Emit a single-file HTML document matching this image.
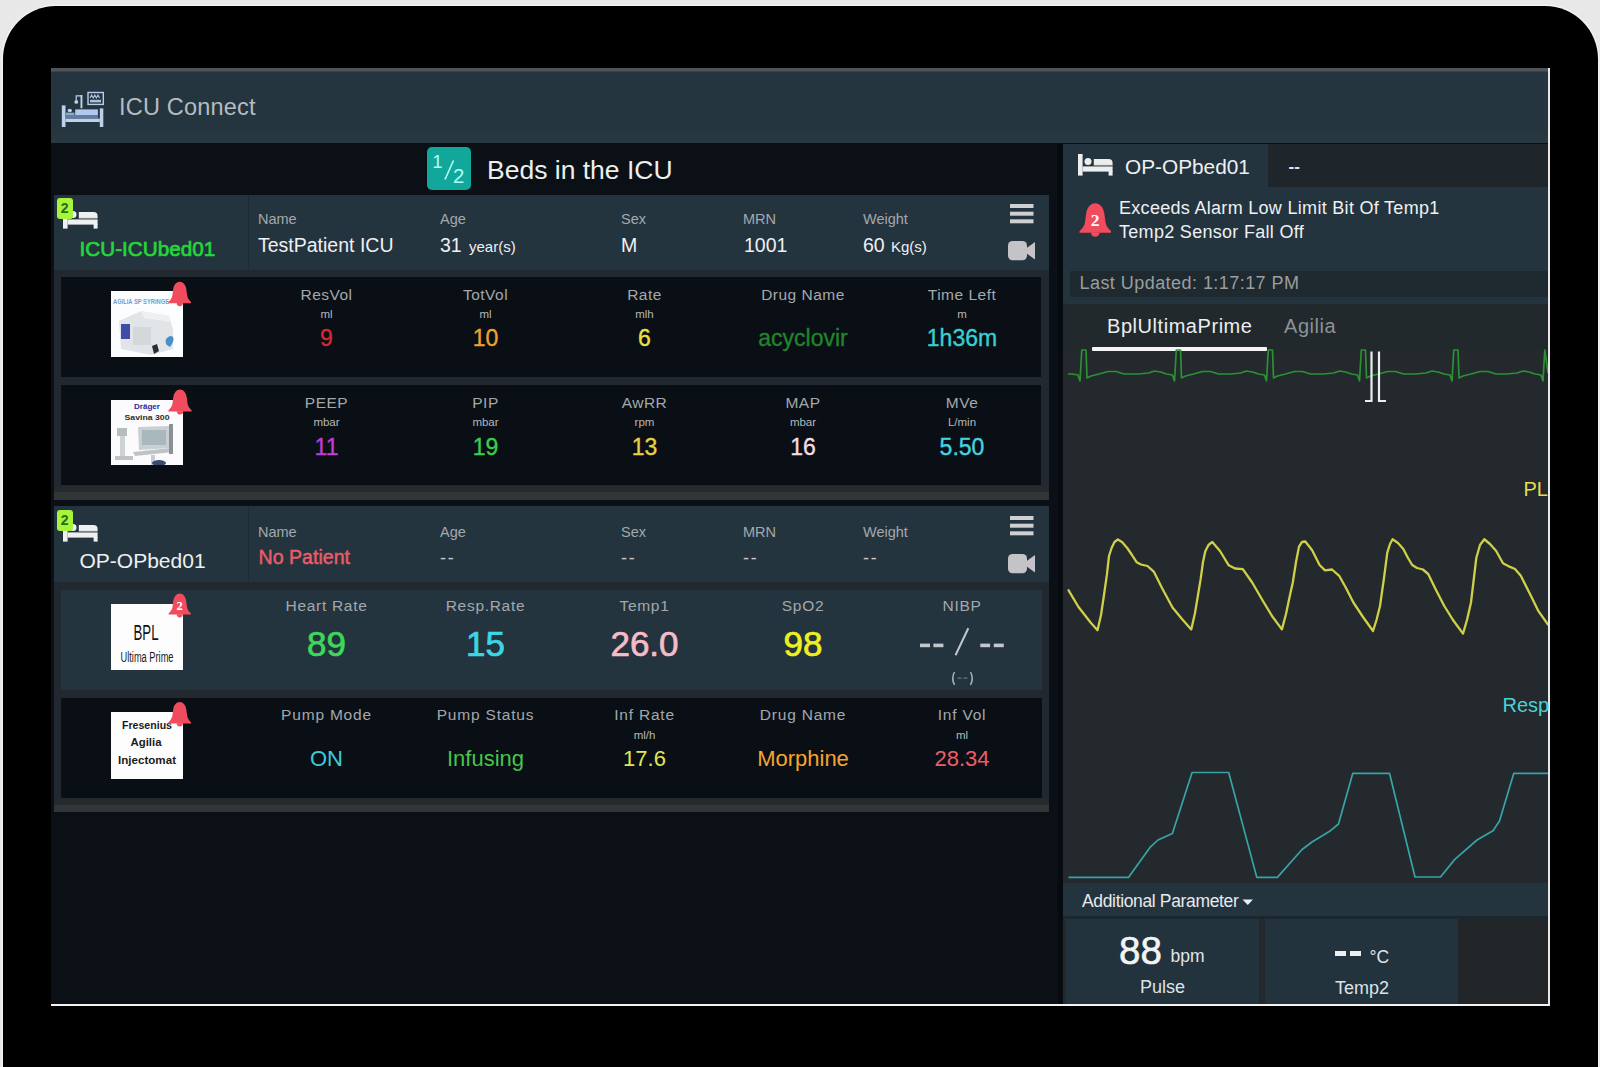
<!DOCTYPE html>
<html><head><meta charset="utf-8"><title>ICU Connect</title>
<style>
html,body{margin:0;padding:0;width:1600px;height:1067px;overflow:hidden;background:#e8e8e8;}
#root{position:relative;width:1600px;height:1067px;overflow:hidden;font-family:"Liberation Sans",sans-serif;}
#root>div,#root>svg{position:absolute;white-space:pre;}
</style></head><body><div id="root">
<div style="left:3px;top:6px;width:1595px;height:1100px;background:#000;border-radius:53px 53px 0 0;box-shadow:0 0 0 1.5px #f2f2f2;"></div>
<div style="left:51px;top:68px;width:1499px;height:938px;background:#0a1016;"></div>
<div style="left:51px;top:70px;width:1499px;height:73px;background:#243540;"></div>
<div style="left:51px;top:68px;width:1497px;height:2.5px;background:#4f5458;"></div>
<div style="left:51px;top:70.5px;width:1497px;height:1.5px;background:#3b4348;"></div>
<div style="left:51px;top:126px;width:1497px;height:17px;background:linear-gradient(#243540,#283940);"></div>
<div style="left:51px;top:1004px;width:1499px;height:2px;background:#f4f4f4;"></div>
<div style="left:1548px;top:68px;width:2px;height:938px;background:#e8e8e8;"></div>
<svg style="left:55px;top:85px" width="50" height="45" viewBox="0 0 50 45">
<g fill="#bdd1ec">
<rect x="6.8" y="20.4" width="3.7" height="21.6"/>
<rect x="44.8" y="23.4" width="3.5" height="18.6"/>
<rect x="10.5" y="33.5" width="34.3" height="3.5"/>
<rect x="20.2" y="24.4" width="22.7" height="5.6" fill="#b2c9ee"/>
<ellipse cx="14.8" cy="25.5" rx="2.2" ry="1.8"/>
<rect x="25.5" y="10" width="1.9" height="13.2"/>
<circle cx="21.3" cy="16.9" r="1.9"/>
</g>
<rect x="11" y="30" width="32" height="3.2" fill="#5f7ea6"/>
<rect x="11" y="27.6" width="8.5" height="2.4" fill="#8ea8cc"/>
<path d="M26.4 10.8 H21.2 V15" stroke="#bdd1ec" stroke-width="1.2" fill="none"/>
<rect x="33" y="7.5" width="15.3" height="11.9" fill="none" stroke="#b9cde8" stroke-width="1.4"/>
<path d="M35 13 l1.6 -3 l1.6 3 l1.6 -3 l1.6 3 l1.6 -3 l1.6 3" stroke="#a9bfdc" stroke-width="1.1" fill="none"/>
<rect x="35" y="14.8" width="11" height="2.6" fill="#a9bfdc"/>
</svg>
<div style="top:96.4px;font-size:23.5px;line-height:23.5px;color:#b6bbbf;font-weight:400;letter-spacing:0.2px;left:119px;">ICU Connect</div>
<div style="left:427px;top:147px;width:44px;height:43px;background:#12a79b;border-radius:5px;"></div>
<div style="top:152.8px;font-size:18px;line-height:18px;color:#b0fff8;font-weight:400;left:432.5px;">1</div>
<div style="top:166.2px;font-size:20.5px;line-height:20.5px;color:#b0fff8;font-weight:400;left:453px;">2</div>
<svg style="left:440px;top:155px" width="20" height="30"><line x1="13.5" y1="5.5" x2="5" y2="24.5" stroke="#b0fff8" stroke-width="1.6"/></svg>
<div style="top:156.6px;font-size:26.5px;line-height:26.5px;color:#eceeee;font-weight:400;left:487px;">Beds in the ICU</div>
<div style="left:54px;top:195px;width:995px;height:304.5px;background:#22282f;"></div>
<div style="left:54px;top:485.5px;width:995px;height:6.5px;background:#252b2d;"></div>
<div style="left:54px;top:492px;width:995px;height:7.5px;background:#333639;"></div>
<div style="left:54px;top:195px;width:995px;height:75px;background:#24343f;"></div>
<div style="left:248px;top:195px;width:1px;height:75px;background:#1e2b34;"></div>
<svg style="left:63.4px;top:207.1px" width="36" height="22" viewBox="0 0 36 22">
<g fill="#eef0f2">
<rect x="0" y="0" width="4.6" height="21.6"/>
<circle cx="10" cy="7.6" r="3.5"/>
<path d="M15.8 4.9 H30.4 Q34.6 4.9 34.6 9 V10.9 H15.8 Z"/>
<rect x="4.6" y="12.4" width="30" height="5.2"/>
<rect x="30.6" y="17" width="4" height="4.6"/>
</g>
<rect x="15.8" y="10.9" width="18.8" height="1.5" fill="#7f8588"/>
</svg>
<div style="left:57px;top:198px;width:15.5px;height:20.5px;background:#a8f33c;border-radius:3px;"></div>
<div style="top:201.3px;font-size:14px;line-height:14px;color:#2c6a12;font-weight:700;left:-235.25px;width:600px;text-align:center;font-family:"Liberation Serif";">2</div>
<div style="top:239.0px;font-size:20.7px;line-height:20.7px;color:#24d63c;font-weight:400;left:79.5px;-webkit-text-stroke:0.7px #24d63c;">ICU-ICUbed01</div>
<div style="top:211.7px;font-size:14.5px;line-height:14.5px;color:#a3a8ac;font-weight:400;left:258px;">Name</div>
<div style="top:235.5px;font-size:19.5px;line-height:19.5px;color:#eef0f2;font-weight:400;left:258px;">TestPatient ICU</div>
<div style="top:211.7px;font-size:14.5px;line-height:14.5px;color:#a3a8ac;font-weight:400;left:440px;">Age</div>
<div style="top:235.5px;font-size:19.5px;line-height:19.5px;color:#eef0f2;font-weight:400;left:440px;">31</div>
<div style="top:239.3px;font-size:15px;line-height:15px;color:#eef0f2;font-weight:400;left:469px;">year(s)</div>
<div style="top:211.7px;font-size:14.5px;line-height:14.5px;color:#a3a8ac;font-weight:400;left:621px;">Sex</div>
<div style="top:235.5px;font-size:19.5px;line-height:19.5px;color:#eef0f2;font-weight:400;left:621px;">M</div>
<div style="top:211.7px;font-size:14.5px;line-height:14.5px;color:#a3a8ac;font-weight:400;left:743px;">MRN</div>
<div style="top:235.5px;font-size:19.5px;line-height:19.5px;color:#eef0f2;font-weight:400;left:744px;">1001</div>
<div style="top:211.7px;font-size:14.5px;line-height:14.5px;color:#a3a8ac;font-weight:400;left:863px;">Weight</div>
<div style="top:235.5px;font-size:19.5px;line-height:19.5px;color:#eef0f2;font-weight:400;left:863px;">60</div>
<div style="top:239.3px;font-size:15px;line-height:15px;color:#eef0f2;font-weight:400;left:891px;">Kg(s)</div>
<svg style="left:1009.5px;top:204px" width="24" height="20"><g fill="#cfd0d2">
<rect x="0" y="0" width="23.5" height="4"/><rect x="0" y="7.7" width="23.5" height="4"/><rect x="0" y="15.3" width="23.5" height="4"/></g></svg>
<svg style="left:1008px;top:241px" width="28" height="20"><g fill="#c4c3c6">
<rect x="0" y="0" width="19" height="19.2" rx="4.5"/><path d="M18 7.5 L27 1 V18.5 L18 12 Z"/></g></svg>
<div style="left:61px;top:277px;width:980px;height:100px;background:#0a0f15;"></div>
<div style="left:61px;top:385px;width:980px;height:100px;background:#0a0f15;"></div>
<div style="top:287.4px;font-size:15.5px;line-height:15.5px;color:#a3a8ac;font-weight:400;letter-spacing:0.5px;left:26.5px;width:600px;text-align:center;">ResVol</div>
<div style="top:309.3px;font-size:11.5px;line-height:11.5px;color:#b4b8bb;font-weight:400;left:26.5px;width:600px;text-align:center;">ml</div>
<div style="top:326.5px;font-size:23px;line-height:23px;color:#d8282e;font-weight:400;left:26.5px;width:600px;text-align:center;-webkit-text-stroke:0.35px #d8282e;">9</div>
<div style="top:287.4px;font-size:15.5px;line-height:15.5px;color:#a3a8ac;font-weight:400;letter-spacing:0.5px;left:185.5px;width:600px;text-align:center;">TotVol</div>
<div style="top:309.3px;font-size:11.5px;line-height:11.5px;color:#b4b8bb;font-weight:400;left:185.5px;width:600px;text-align:center;">ml</div>
<div style="top:326.5px;font-size:23px;line-height:23px;color:#f0a030;font-weight:400;left:185.5px;width:600px;text-align:center;-webkit-text-stroke:0.35px #f0a030;">10</div>
<div style="top:287.4px;font-size:15.5px;line-height:15.5px;color:#a3a8ac;font-weight:400;letter-spacing:0.5px;left:344.5px;width:600px;text-align:center;">Rate</div>
<div style="top:309.3px;font-size:11.5px;line-height:11.5px;color:#b4b8bb;font-weight:400;left:344.5px;width:600px;text-align:center;">mlh</div>
<div style="top:326.5px;font-size:23px;line-height:23px;color:#e8e040;font-weight:400;left:344.5px;width:600px;text-align:center;-webkit-text-stroke:0.35px #e8e040;">6</div>
<div style="top:287.4px;font-size:15.5px;line-height:15.5px;color:#a3a8ac;font-weight:400;letter-spacing:0.5px;left:503px;width:600px;text-align:center;">Drug Name</div>
<div style="top:326.5px;font-size:23px;line-height:23px;color:#22842c;font-weight:400;left:503px;width:600px;text-align:center;-webkit-text-stroke:0.35px #22842c;">acyclovir</div>
<div style="top:287.4px;font-size:15.5px;line-height:15.5px;color:#a3a8ac;font-weight:400;letter-spacing:0.5px;left:662px;width:600px;text-align:center;">Time Left</div>
<div style="top:309.3px;font-size:11.5px;line-height:11.5px;color:#b4b8bb;font-weight:400;left:662px;width:600px;text-align:center;">m</div>
<div style="top:326.5px;font-size:23px;line-height:23px;color:#38cfd2;font-weight:400;left:662px;width:600px;text-align:center;-webkit-text-stroke:0.35px #38cfd2;">1h36m</div>
<div style="top:394.9px;font-size:15.5px;line-height:15.5px;color:#a3a8ac;font-weight:400;letter-spacing:0.5px;left:26.5px;width:600px;text-align:center;">PEEP</div>
<div style="top:417.3px;font-size:11.5px;line-height:11.5px;color:#b4b8bb;font-weight:400;left:26.5px;width:600px;text-align:center;">mbar</div>
<div style="top:435.5px;font-size:23px;line-height:23px;color:#c23bd6;font-weight:400;left:26.5px;width:600px;text-align:center;-webkit-text-stroke:0.35px #c23bd6;">11</div>
<div style="top:394.9px;font-size:15.5px;line-height:15.5px;color:#a3a8ac;font-weight:400;letter-spacing:0.5px;left:185.5px;width:600px;text-align:center;">PIP</div>
<div style="top:417.3px;font-size:11.5px;line-height:11.5px;color:#b4b8bb;font-weight:400;left:185.5px;width:600px;text-align:center;">mbar</div>
<div style="top:435.5px;font-size:23px;line-height:23px;color:#36d04a;font-weight:400;left:185.5px;width:600px;text-align:center;-webkit-text-stroke:0.35px #36d04a;">19</div>
<div style="top:394.9px;font-size:15.5px;line-height:15.5px;color:#a3a8ac;font-weight:400;letter-spacing:0.5px;left:344.5px;width:600px;text-align:center;">AwRR</div>
<div style="top:417.3px;font-size:11.5px;line-height:11.5px;color:#b4b8bb;font-weight:400;left:344.5px;width:600px;text-align:center;">rpm</div>
<div style="top:435.5px;font-size:23px;line-height:23px;color:#e8d044;font-weight:400;left:344.5px;width:600px;text-align:center;-webkit-text-stroke:0.35px #e8d044;">13</div>
<div style="top:394.9px;font-size:15.5px;line-height:15.5px;color:#a3a8ac;font-weight:400;letter-spacing:0.5px;left:503px;width:600px;text-align:center;">MAP</div>
<div style="top:417.3px;font-size:11.5px;line-height:11.5px;color:#b4b8bb;font-weight:400;left:503px;width:600px;text-align:center;">mbar</div>
<div style="top:435.5px;font-size:23px;line-height:23px;color:#f2dde4;font-weight:400;left:503px;width:600px;text-align:center;-webkit-text-stroke:0.35px #f2dde4;">16</div>
<div style="top:394.9px;font-size:15.5px;line-height:15.5px;color:#a3a8ac;font-weight:400;letter-spacing:0.5px;left:662px;width:600px;text-align:center;">MVe</div>
<div style="top:417.3px;font-size:11.5px;line-height:11.5px;color:#b4b8bb;font-weight:400;left:662px;width:600px;text-align:center;">L/min</div>
<div style="top:435.5px;font-size:23px;line-height:23px;color:#44d4e0;font-weight:400;left:662px;width:600px;text-align:center;-webkit-text-stroke:0.35px #44d4e0;">5.50</div>
<svg style="left:111px;top:291px" width="72" height="66" viewBox="0 0 72 66">
<rect width="72" height="66" fill="#fbfdfe"/>
<text x="2" y="13" font-family="Liberation Sans" font-size="8" font-weight="bold" fill="#6ea2d4" textLength="56" lengthAdjust="spacingAndGlyphs">AGILIA SP SYRINGE</text>
<path d="M8 30 L30 20 L58 25 L62 38 L62 58 L40 64 L10 58 Z" fill="#e2e5e8"/>
<path d="M30 20 L58 25 L60 31 L33 27 Z" fill="#eef0f2"/>
<rect x="10" y="33" width="9" height="15" fill="#3e4ea8"/>
<rect x="22" y="36" width="18" height="18" fill="#d4d8db"/>
<path d="M55 48 q4 -5 7 -2 q2 3 -3 10 q-6 -3 -4 -8 z" fill="#4a90c8"/>
<path d="M41 55 L46 53 L48 60 L43 63 Z" fill="#2a2e32"/>
</svg>
<svg style="left:111px;top:400px" width="72" height="65" viewBox="0 0 72 65">
<rect width="72" height="65" fill="#fbfbfe"/>
<text x="36" y="9" font-family="Liberation Sans" font-size="8" font-weight="bold" fill="#2a2a9a" text-anchor="middle" textLength="26" lengthAdjust="spacingAndGlyphs">Dräger</text>
<text x="36" y="20" font-family="Liberation Sans" font-size="8" font-weight="bold" fill="#2b2b2b" text-anchor="middle" textLength="45" lengthAdjust="spacingAndGlyphs">Savina 300</text>
<rect x="6" y="28" width="10" height="8" fill="#b9bcbf"/>
<rect x="9" y="36" width="5" height="22" fill="#cfd2d4"/>
<rect x="4" y="56" width="18" height="4" fill="#c0c3c5"/>
<path d="M27 27 L58 26 L60 48 L28 50 Z" fill="#c9cfd2"/>
<rect x="31" y="30" width="24" height="15" fill="#a8b8bd"/>
<path d="M22 52 L60 48 L62 52 L24 56 Z" fill="#bfc3c6"/>
<rect x="40" y="55" width="4" height="10" fill="#c8cacd"/>
<rect x="58" y="24" width="4" height="30" fill="#8b9094"/>
<ellipse cx="48" cy="63" rx="7" ry="3" fill="#3a4a70"/>
</svg>
<svg style="left:167.5px;top:280.5px" width="23.5" height="26" viewBox="0 0 24 26">
<path d="M12 0.6 C15.4 0.6 18.2 3.8 18.8 8.8 L19.5 14.3 C19.9 17.4 21.6 19.4 23.6 21.2 L23.6 22.4 H0.4 L0.4 21.2 C2.4 19.4 4.1 17.4 4.5 14.3 L5.2 8.8 C5.8 3.8 8.6 0.6 12 0.6 Z" fill="#f04c5e"/>
<path d="M8.8 22.2 A3.2 3.2 0 0 0 15.2 22.2 Z" fill="#f04c5e"/>
</svg>
<svg style="left:167.5px;top:388.5px" width="24" height="26" viewBox="0 0 24 26">
<path d="M12 0.6 C15.4 0.6 18.2 3.8 18.8 8.8 L19.5 14.3 C19.9 17.4 21.6 19.4 23.6 21.2 L23.6 22.4 H0.4 L0.4 21.2 C2.4 19.4 4.1 17.4 4.5 14.3 L5.2 8.8 C5.8 3.8 8.6 0.6 12 0.6 Z" fill="#f04c5e"/>
<path d="M8.8 22.2 A3.2 3.2 0 0 0 15.2 22.2 Z" fill="#f04c5e"/>
</svg>
<div style="left:54px;top:506px;width:995px;height:305.5px;background:#22282f;"></div>
<div style="left:54px;top:798.5px;width:995px;height:6.5px;background:#252b2d;"></div>
<div style="left:54px;top:805px;width:995px;height:6.5px;background:#333639;"></div>
<div style="left:54px;top:506px;width:995px;height:76px;background:#24343f;"></div>
<div style="left:248px;top:506px;width:1px;height:76px;background:#1e2b34;"></div>
<svg style="left:63.4px;top:519.5px" width="36" height="22" viewBox="0 0 36 22">
<g fill="#eef0f2">
<rect x="0" y="0" width="4.6" height="21.6"/>
<circle cx="10" cy="7.6" r="3.5"/>
<path d="M15.8 4.9 H30.4 Q34.6 4.9 34.6 9 V10.9 H15.8 Z"/>
<rect x="4.6" y="12.4" width="30" height="5.2"/>
<rect x="30.6" y="17" width="4" height="4.6"/>
</g>
<rect x="15.8" y="10.9" width="18.8" height="1.5" fill="#7f8588"/>
</svg>
<div style="left:57px;top:510px;width:15.5px;height:20.5px;background:#a8f33c;border-radius:3px;"></div>
<div style="top:513.3px;font-size:14px;line-height:14px;color:#2c6a12;font-weight:700;left:-235.25px;width:600px;text-align:center;font-family:"Liberation Serif";">2</div>
<div style="top:550.2px;font-size:21px;line-height:21px;color:#eef0f2;font-weight:400;left:79.5px;">OP-OPbed01</div>
<div style="top:525.2px;font-size:14.5px;line-height:14.5px;color:#a3a8ac;font-weight:400;left:258px;">Name</div>
<div style="top:548.4px;font-size:19.6px;line-height:19.6px;color:#ec5c66;font-weight:400;left:258.5px;-webkit-text-stroke:0.45px #ec5c66;">No Patient</div>
<div style="top:525.2px;font-size:14.5px;line-height:14.5px;color:#a3a8ac;font-weight:400;left:440px;">Age</div>
<div style="top:549.3px;font-size:18px;line-height:18px;color:#c4c8cb;font-weight:400;letter-spacing:1.8px;left:440px;">--</div>
<div style="top:525.2px;font-size:14.5px;line-height:14.5px;color:#a3a8ac;font-weight:400;left:621px;">Sex</div>
<div style="top:549.3px;font-size:18px;line-height:18px;color:#c4c8cb;font-weight:400;letter-spacing:1.8px;left:621px;">--</div>
<div style="top:525.2px;font-size:14.5px;line-height:14.5px;color:#a3a8ac;font-weight:400;left:743px;">MRN</div>
<div style="top:549.3px;font-size:18px;line-height:18px;color:#c4c8cb;font-weight:400;letter-spacing:1.8px;left:743px;">--</div>
<div style="top:525.2px;font-size:14.5px;line-height:14.5px;color:#a3a8ac;font-weight:400;left:863px;">Weight</div>
<div style="top:549.3px;font-size:18px;line-height:18px;color:#c4c8cb;font-weight:400;letter-spacing:1.8px;left:863px;">--</div>
<svg style="left:1009.5px;top:515.5px" width="24" height="20"><g fill="#cfd0d2">
<rect x="0" y="0" width="23.5" height="4"/><rect x="0" y="7.7" width="23.5" height="4"/><rect x="0" y="15.3" width="23.5" height="4"/></g></svg>
<svg style="left:1008px;top:553.5px" width="28" height="20"><g fill="#c4c3c6">
<rect x="0" y="0" width="19" height="19.2" rx="4.5"/><path d="M18 7.5 L27 1 V18.5 L18 12 Z"/></g></svg>
<div style="left:61px;top:590px;width:981px;height:100px;background:#24343f;"></div>
<div style="left:61px;top:698px;width:981px;height:100px;background:#0a0f15;"></div>
<svg style="left:111px;top:604px" width="72" height="66" viewBox="0 0 72 66">
<rect width="72" height="66" fill="#fdfdfd"/>
<text x="35" y="35.5" font-family="Liberation Sans" font-size="22" fill="#111" text-anchor="middle" textLength="25" lengthAdjust="spacingAndGlyphs">BPL</text>
<text x="36" y="58" font-family="Liberation Sans" font-size="14" fill="#1a1a1a" text-anchor="middle" textLength="53" lengthAdjust="spacingAndGlyphs">Ultima Prime</text>
</svg>
<svg style="left:168px;top:592.5px" width="23.5" height="25" viewBox="0 0 24 26">
<path d="M12 0.6 C15.4 0.6 18.2 3.8 18.8 8.8 L19.5 14.3 C19.9 17.4 21.6 19.4 23.6 21.2 L23.6 22.4 H0.4 L0.4 21.2 C2.4 19.4 4.1 17.4 4.5 14.3 L5.2 8.8 C5.8 3.8 8.6 0.6 12 0.6 Z" fill="#f04c5e"/>
<path d="M8.8 22.2 A3.2 3.2 0 0 0 15.2 22.2 Z" fill="#f04c5e"/>
<text x="12" y="17.8" font-family="Liberation Serif" font-weight="bold" font-size="13" fill="#fff" text-anchor="middle">2</text></svg>
<svg style="left:111px;top:712px" width="72" height="67" viewBox="0 0 72 67">
<rect width="72" height="67" fill="#fdfdfd"/>
<text x="36" y="16.5" font-family="Liberation Sans" font-size="10.5" font-weight="bold" fill="#1b1b1b" text-anchor="middle" textLength="50" lengthAdjust="spacingAndGlyphs">Fresenius</text>
<text x="35" y="33.5" font-family="Liberation Sans" font-size="10.5" font-weight="bold" fill="#1b1b1b" text-anchor="middle" textLength="31" lengthAdjust="spacingAndGlyphs">Agilia</text>
<text x="36" y="51.5" font-family="Liberation Sans" font-size="10.5" font-weight="bold" fill="#1b1b1b" text-anchor="middle" textLength="58" lengthAdjust="spacingAndGlyphs">Injectomat</text>
</svg>
<svg style="left:168px;top:701px" width="23.5" height="26.5" viewBox="0 0 24 26">
<path d="M12 0.6 C15.4 0.6 18.2 3.8 18.8 8.8 L19.5 14.3 C19.9 17.4 21.6 19.4 23.6 21.2 L23.6 22.4 H0.4 L0.4 21.2 C2.4 19.4 4.1 17.4 4.5 14.3 L5.2 8.8 C5.8 3.8 8.6 0.6 12 0.6 Z" fill="#f04c5e"/>
<path d="M8.8 22.2 A3.2 3.2 0 0 0 15.2 22.2 Z" fill="#f04c5e"/>
</svg>
<div style="top:598.4px;font-size:15.5px;line-height:15.5px;color:#a3a8ac;font-weight:400;letter-spacing:0.7px;left:26.5px;width:600px;text-align:center;">Heart Rate</div>
<div style="top:625.9px;font-size:35px;line-height:35px;color:#3cd85a;font-weight:400;left:26.5px;width:600px;text-align:center;-webkit-text-stroke:0.7px #3cd85a;">89</div>
<div style="top:598.4px;font-size:15.5px;line-height:15.5px;color:#a3a8ac;font-weight:400;letter-spacing:0.7px;left:185.5px;width:600px;text-align:center;">Resp.Rate</div>
<div style="top:625.9px;font-size:35px;line-height:35px;color:#3cd6e4;font-weight:400;left:185.5px;width:600px;text-align:center;-webkit-text-stroke:0.7px #3cd6e4;">15</div>
<div style="top:598.4px;font-size:15.5px;line-height:15.5px;color:#a3a8ac;font-weight:400;letter-spacing:0.7px;left:344.5px;width:600px;text-align:center;">Temp1</div>
<div style="top:625.9px;font-size:35px;line-height:35px;color:#f6bccb;font-weight:400;left:344.5px;width:600px;text-align:center;-webkit-text-stroke:0.7px #f6bccb;">26.0</div>
<div style="top:598.4px;font-size:15.5px;line-height:15.5px;color:#a3a8ac;font-weight:400;letter-spacing:0.7px;left:503px;width:600px;text-align:center;">SpO2</div>
<div style="top:625.9px;font-size:35px;line-height:35px;color:#f0f020;font-weight:400;left:503px;width:600px;text-align:center;-webkit-text-stroke:0.7px #f0f020;">98</div>
<div style="top:598.4px;font-size:15.5px;line-height:15.5px;color:#a3a8ac;font-weight:400;letter-spacing:0.7px;left:662px;width:600px;text-align:center;">NIBP</div>
<svg style="left:915px;top:625px" width="95" height="65"><g fill="#c3c7ca">
<rect x="5" y="18.6" width="10" height="3.6"/><rect x="18.4" y="18.6" width="10" height="3.6"/>
<rect x="65.3" y="18.6" width="9.8" height="3.6"/><rect x="78.8" y="18.6" width="10" height="3.6"/></g>
<line x1="40.5" y1="30.3" x2="53.3" y2="3.3" stroke="#c3c7ca" stroke-width="2"/>
<path d="M39.5 47 Q36 53.5 39.5 60" stroke="#aab0b4" stroke-width="1.5" fill="none"/>
<path d="M55.5 47 Q59 53.5 55.5 60" stroke="#aab0b4" stroke-width="1.5" fill="none"/>
<rect x="42.5" y="52.5" width="4" height="1.2" fill="#6c7a84"/><rect x="48.5" y="52.5" width="4" height="1.2" fill="#6c7a84"/>
</svg>
<div style="top:707.4px;font-size:15.5px;line-height:15.5px;color:#a3a8ac;font-weight:400;letter-spacing:0.8px;left:26.5px;width:600px;text-align:center;">Pump Mode</div>
<div style="top:747.9px;font-size:22px;line-height:22px;color:#3ccbdc;font-weight:400;left:26.5px;width:600px;text-align:center;">ON</div>
<div style="top:707.4px;font-size:15.5px;line-height:15.5px;color:#a3a8ac;font-weight:400;letter-spacing:0.8px;left:185.5px;width:600px;text-align:center;">Pump Status</div>
<div style="top:747.9px;font-size:22px;line-height:22px;color:#48c448;font-weight:400;left:185.5px;width:600px;text-align:center;">Infusing</div>
<div style="top:707.4px;font-size:15.5px;line-height:15.5px;color:#a3a8ac;font-weight:400;letter-spacing:0.8px;left:344.5px;width:600px;text-align:center;">Inf Rate</div>
<div style="top:729.8px;font-size:11.5px;line-height:11.5px;color:#b4b8bb;font-weight:400;left:344.5px;width:600px;text-align:center;">ml/h</div>
<div style="top:747.9px;font-size:22px;line-height:22px;color:#e4e45a;font-weight:400;left:344.5px;width:600px;text-align:center;">17.6</div>
<div style="top:707.4px;font-size:15.5px;line-height:15.5px;color:#a3a8ac;font-weight:400;letter-spacing:0.8px;left:503px;width:600px;text-align:center;">Drug Name</div>
<div style="top:747.9px;font-size:22px;line-height:22px;color:#f4a430;font-weight:400;left:503px;width:600px;text-align:center;">Morphine</div>
<div style="top:707.4px;font-size:15.5px;line-height:15.5px;color:#a3a8ac;font-weight:400;letter-spacing:0.8px;left:662px;width:600px;text-align:center;">Inf Vol</div>
<div style="top:729.8px;font-size:11.5px;line-height:11.5px;color:#b4b8bb;font-weight:400;left:662px;width:600px;text-align:center;">ml</div>
<div style="top:747.9px;font-size:22px;line-height:22px;color:#ea5d6a;font-weight:400;left:662px;width:600px;text-align:center;">28.34</div>
<div style="left:1057.5px;top:144px;width:5.5px;height:860px;background:#060b10;"></div>
<div style="left:1063px;top:144px;width:485px;height:860px;background:#23292d;"></div>
<div style="left:1063px;top:144px;width:485px;height:160px;background:#24343f;"></div>
<div style="left:1268px;top:144px;width:280px;height:43px;background:#1f262b;"></div>
<svg style="left:1077.5px;top:153.6px" width="36" height="22" viewBox="0 0 36 22">
<g fill="#eceeee">
<rect x="0" y="0" width="4.6" height="21.6"/>
<circle cx="10" cy="7.6" r="3.5"/>
<path d="M15.8 4.9 H30.4 Q34.6 4.9 34.6 9 V10.9 H15.8 Z"/>
<rect x="4.6" y="12.4" width="30" height="5.2"/>
<rect x="30.6" y="17" width="4" height="4.6"/>
</g>
<rect x="15.8" y="10.9" width="18.8" height="1.5" fill="#7f8588"/>
</svg>
<div style="top:157.4px;font-size:20.8px;line-height:20.8px;color:#eef0f2;font-weight:400;left:1125px;">OP-OPbed01</div>
<div style="top:157.6px;font-size:17px;line-height:17px;color:#e0e2e4;font-weight:700;left:1288.5px;">--</div>
<svg style="left:1079px;top:201.5px" width="32.5" height="36" viewBox="0 0 24 26">
<path d="M12 0.6 C15.4 0.6 18.2 3.8 18.8 8.8 L19.5 14.3 C19.9 17.4 21.6 19.4 23.6 21.2 L23.6 22.4 H0.4 L0.4 21.2 C2.4 19.4 4.1 17.4 4.5 14.3 L5.2 8.8 C5.8 3.8 8.6 0.6 12 0.6 Z" fill="#f04c5e"/>
<path d="M8.8 22.2 A3.2 3.2 0 0 0 15.2 22.2 Z" fill="#f04c5e"/>
<text x="12" y="17.8" font-family="Liberation Serif" font-weight="bold" font-size="13" fill="#fff" text-anchor="middle">2</text></svg>
<div style="top:199.4px;font-size:18px;line-height:18px;color:#eef0f2;font-weight:400;letter-spacing:0.3px;left:1119px;">Exceeds Alarm Low Limit Bit Of Temp1</div>
<div style="top:223.2px;font-size:18px;line-height:18px;color:#eef0f2;font-weight:400;letter-spacing:0.3px;left:1119px;">Temp2 Sensor Fall Off</div>
<div style="left:1070px;top:271px;width:478px;height:26px;background:#1e2930;"></div>
<div style="top:273.8px;font-size:18px;line-height:18px;color:#9a9e9f;font-weight:400;letter-spacing:0.45px;left:1079.5px;">Last Updated: 1:17:17 PM</div>
<div style="left:1063px;top:304px;width:485px;height:46px;background:#22292d;"></div>
<div style="top:316.1px;font-size:20px;line-height:20px;color:#eceeef;font-weight:400;letter-spacing:0.55px;left:1107px;">BplUltimaPrime</div>
<div style="top:316.1px;font-size:20px;line-height:20px;color:#8c9296;font-weight:400;letter-spacing:0.55px;left:1284px;">Agilia</div>
<div style="left:1092px;top:347px;width:175px;height:3.5px;background:#f4f4f4;border-radius:1px;"></div>
<div style="top:478.7px;font-size:20px;line-height:20px;color:#e8dc4c;font-weight:400;left:1523.5px;">PL</div>
<div style="top:695.4px;font-size:20px;line-height:20px;color:#48d2d6;font-weight:400;left:1502.5px;">Resp</div>
<div style="left:1063px;top:883px;width:485px;height:33px;background:#23343f;"></div>
<div style="left:1063px;top:916px;width:485px;height:3px;background:#1c262d;"></div>
<div style="top:893.4px;font-size:17.5px;line-height:17.5px;color:#e8eaec;font-weight:400;letter-spacing:-0.35px;left:1082px;">Additional Parameter</div>
<svg style="left:1242px;top:899px" width="12" height="7"><path d="M0.5 0.5 H11 L5.75 6 Z" fill="#eceeee"/></svg>
<div style="left:1066px;top:919px;width:193px;height:85px;background:#22333e;"></div>
<div style="left:1265px;top:919px;width:193px;height:85px;background:#22333e;"></div>
<div style="left:1458px;top:919px;width:90px;height:85px;background:#222629;"></div>
<div style="top:931.7px;font-size:38.5px;line-height:38.5px;color:#f2f4f4;font-weight:400;left:1119px;-webkit-text-stroke:0.6px #f2f4f4;">88</div>
<div style="top:947.9px;font-size:17.5px;line-height:17.5px;color:#e2e4e6;font-weight:400;left:1170.5px;">bpm</div>
<div style="top:978.4px;font-size:18px;line-height:18px;color:#dfe2e4;font-weight:400;left:862.5px;width:600px;text-align:center;">Pulse</div>
<div style="left:1334.5px;top:951px;width:11px;height:4.5px;background:#eef0f0;"></div>
<div style="left:1349.5px;top:951px;width:11px;height:4.5px;background:#eef0f0;"></div>
<div style="top:949.2px;font-size:17.5px;line-height:17.5px;color:#e2e4e6;font-weight:400;left:1369.5px;">°C</div>
<div style="top:978.8px;font-size:18px;line-height:18px;color:#dfe2e4;font-weight:400;left:1062px;width:600px;text-align:center;">Temp2</div>
<svg style="left:1063px;top:340px" width="485" height="545" viewBox="1063 340 485 545">
<polyline points="1068.0,374.0 1072.0,374.0 1078.0,375.0 1080.0,381.0 1081.8,350.0 1086.0,350.0 1087.0,378.0 1091.0,376.0 1099.0,374.0 1108.0,371.5 1116.0,371.5 1124.0,374.0 1134.0,374.0 1138.5,374.0 1148.5,373.0 1154.5,371.0 1160.5,372.0 1166.5,374.0 1172.5,375.0 1174.5,381.0 1176.3,350.0 1180.5,350.0 1181.5,378.0 1185.5,376.0 1193.5,374.0 1202.5,371.5 1210.5,371.5 1218.5,374.0 1228.5,374.0 1230.5,374.0 1240.5,373.0 1246.5,371.0 1252.5,372.0 1258.5,374.0 1264.5,375.0 1266.5,381.0 1268.3,350.0 1272.5,350.0 1273.5,378.0 1277.5,376.0 1285.5,374.0 1294.5,371.5 1302.5,371.5 1310.5,374.0 1320.5,374.0 1323.5,374.0 1333.5,373.0 1339.5,371.0 1345.5,372.0 1351.5,374.0 1357.5,375.0 1359.5,381.0 1361.3,350.0 1365.5,350.0 1366.5,378.0 1370.5,376.0 1378.5,374.0 1387.5,371.5 1395.5,371.5 1403.5,374.0 1413.5,374.0 1416.0,374.0 1426.0,373.0 1432.0,371.0 1438.0,372.0 1444.0,374.0 1450.0,375.0 1452.0,381.0 1453.8,350.0 1458.0,350.0 1459.0,378.0 1463.0,376.0 1471.0,374.0 1480.0,371.5 1488.0,371.5 1496.0,374.0 1506.0,374.0 1507.0,374.0 1517.0,373.0 1523.0,371.0 1529.0,372.0 1535.0,374.0 1541.0,375.0 1543.0,381.0 1544.8,350.0 1548.0,373.0" fill="none" stroke="#2a9232" stroke-width="1.7" stroke-linejoin="round"/>
<path d="M1365 401 H1371.5 V351.5 M1379 351.5 V401 H1386" fill="none" stroke="#eceeee" stroke-width="2.2"/>
<polyline points="1068.6,590.3 1078.5,607 1091,623 1097.5,630.2 1101,615 1104,595 1106.9,574.7 1109,556 1111.6,548 1114.5,542 1117.8,539.5 1122,542 1127.2,548 1132,555 1136.6,562.2 1141,564.5 1147.5,566 1153.75,571.6 1162,588 1172.5,607.5 1182,619 1191.25,629.4 1195,613 1198,595 1200.6,579.4 1203,562 1205.3,551.25 1208.5,545 1212.3,541.9 1220,551 1228.75,565.3 1235,568.5 1242.8,569.2 1252.2,582.5 1263.1,601.25 1272,616 1281.9,629.4 1286,614 1290,595 1292.8,582.5 1296,562 1299,546.6 1302,542 1305.3,541.5 1312,550 1319.6,565 1325,570.4 1332,569.5 1339.2,575.8 1346,588 1353.4,602.5 1363,617 1373,631 1376.5,620 1380,606 1384,578 1387.3,552.6 1390,544 1392.6,539.25 1398,543 1403.3,549 1408,558 1412.2,565 1417,568 1422.9,569.5 1428.2,574 1436,590 1444.3,606 1453,620 1463,633.6 1467,620 1471,602.5 1476.3,558 1480,545 1484.3,539.25 1490,544 1496,550.8 1503,563.3 1510,566.9 1515,569 1520.8,575.8 1530,594 1538.6,611.4 1548,624.5" fill="none" stroke="#d0d048" stroke-width="2.3" stroke-linejoin="round" stroke-linecap="round"/>
<polyline points="1068.4,877.4 1128.4,877.4 1150,847.4 1158,840 1172.4,833.4 1192.1,772.5 1228.7,772.5 1256.8,877.4 1277.4,877.4 1301.8,849.8 1312,842 1330.5,830.7 1338.5,824 1352.8,773.3 1389.5,773.3 1415,877 1440.5,877 1454.8,859.4 1477,840 1493,830.7 1499.5,821 1513.8,773.3 1548,773.3" fill="none" stroke="#39a4a4" stroke-width="1.7" stroke-linejoin="round"/>
</svg>
</div></body></html>
